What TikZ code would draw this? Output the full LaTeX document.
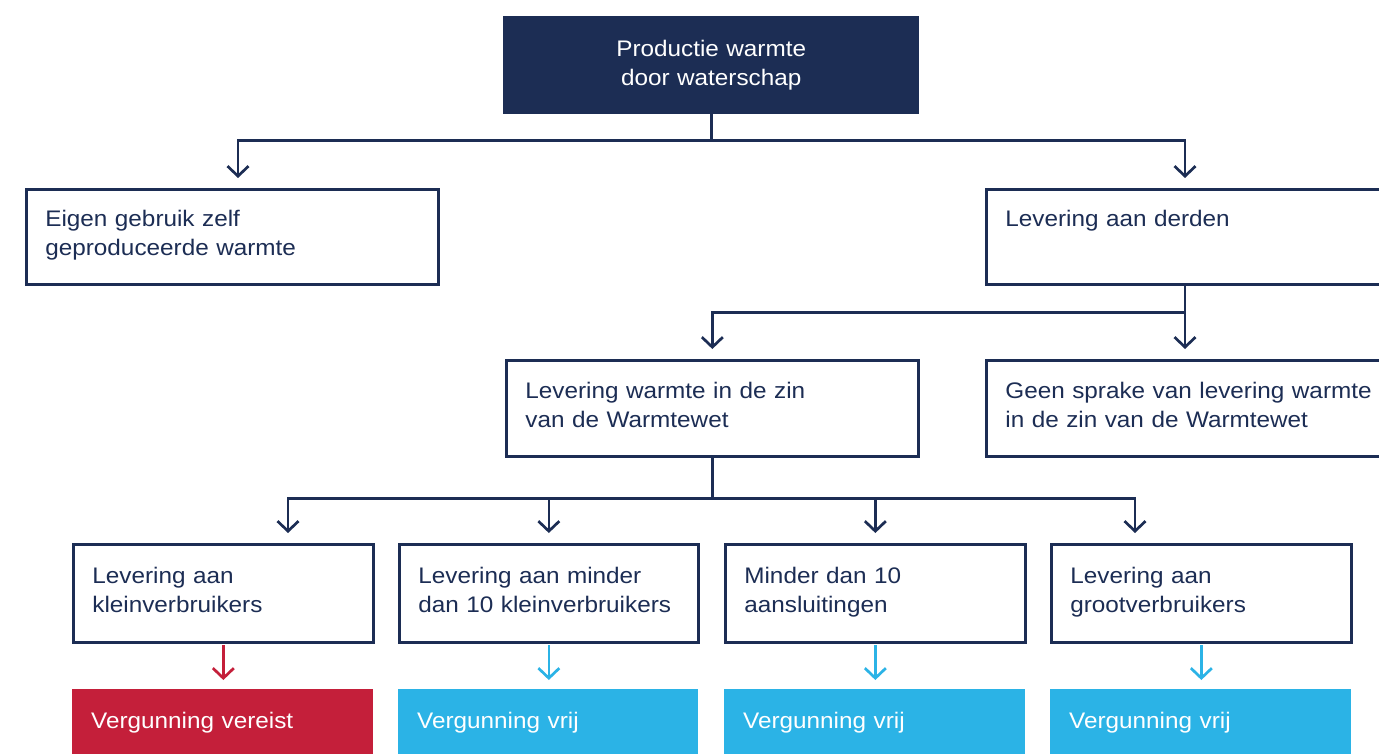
\documentclass[tikz,border=0pt]{standalone}
\usepackage{fontspec}
\setmainfont{Liberation Sans}[FakeStretch=1.08]
\usetikzlibrary{arrows.meta,calc}
\definecolor{navy}{HTML}{1C2D54}
\definecolor{wred}{HTML}{C41F3A}
\definecolor{wblue}{HTML}{2BB3E6}
\newcommand{\topstrut}{\rule{0pt}{17pt}}
\newcommand{\botstrut}{\rule[-8pt]{0pt}{8pt}}
\begin{document}
\begin{tikzpicture}[x=1pt,y=-1pt,
  txt/.style={font=\fontsize{22.5}{29}\selectfont},
  box/.style={txt, draw=navy, line width=2.7pt, text=navy, fill=white,
    anchor=north west, align=left, inner xsep=19pt, inner ysep=0pt},
  topbox/.style={txt, fill=navy, text=white, anchor=north west, align=center,
    inner xsep=0pt, inner ysep=0pt},
  result/.style={txt, text=white, anchor=north west, align=left,
    inner xsep=19pt, inner ysep=0pt, minimum height=66pt},
  conn/.style={draw=navy, line width=2.7pt},
  arr/.style={-{Straight Barb[length=10pt,width=21pt]}, shorten >=10pt}
]
\useasboundingbox (0,0) rectangle (1379,754);
\clip (0,0) rectangle (1379,754);

\node[topbox, text width=416pt, minimum height=98pt] (top) at (503,16)
  {Productie warmte\\door waterschap};
\node[box, text width=374pt, minimum height=95pt] (eigen) at (25,188)
  {\topstrut Eigen gebruik zelf\\geproduceerde warmte\botstrut};
\node[box, text width=392pt, minimum height=95pt] (derden) at (985,188)
  {\topstrut Levering aan derden\\\mbox{}\botstrut};
\node[box, text width=374pt, minimum height=96pt] (warmte) at (505,359)
  {\topstrut Levering warmte in de zin\\van de Warmtewet\botstrut};
\node[box, text width=400pt, minimum height=96pt] (geen) at (985,359)
  {\topstrut Geen sprake van levering warmte\\in de zin van de Warmtewet\botstrut};

\node[box, text width=262pt, minimum height=98pt] (b1) at (72,543)
  {\topstrut Levering aan\\kleinverbruikers\botstrut};
\node[box, text width=261pt, minimum height=98pt] (b2) at (398,543)
  {\topstrut Levering aan minder\\dan 10 kleinverbruikers\botstrut};
\node[box, text width=262pt, minimum height=98pt] (b3) at (724,543)
  {\topstrut Minder dan 10\\aansluitingen\botstrut};
\node[box, text width=262pt, minimum height=98pt] (b4) at (1050,543)
  {\topstrut Levering aan\\grootverbruikers\botstrut};

\node[result, fill=wred, text width=263pt] (v1) at (72,689) {Vergunning vereist};
\node[result, fill=wblue, text width=262pt] (v2) at (398,689) {Vergunning vrij};
\node[result, fill=wblue, text width=263pt] (v3) at (724,689) {Vergunning vrij};
\node[result, fill=wblue, text width=263pt] (v4) at (1050,689) {Vergunning vrij};

% level 1
\draw[conn] (top.south) -- ++(0,26) coordinate (j1);
\draw[conn,arr] (j1) -| ($(eigen.north west)+(213,0)$);
\draw[conn,arr] (j1) -| ($(derden.north west)+(200,0)$);
% level 2
\draw[conn] ($(derden.south west)+(200,0)$) -- ++(0,27) coordinate (j2);
\draw[conn,arr] (j2) -| (warmte.north);
\draw[conn,arr] (j2) -- ($(geen.north west)+(200,0)$);
% level 3
\draw[conn] (warmte.south) -- ++(0,41) coordinate (j3);
\draw[conn,arr] (j3) -| ($(b1.north west)+(216,0)$);
\draw[conn,arr] (j3) -| (b2.north);
\draw[conn,arr] (j3) -| (b3.north);
\draw[conn,arr] (j3) -| ($(b4.north west)+(85,0)$);
% results
\draw[conn,arr,draw=wred,shorten <=1.4pt,shorten >=9pt] (b1.south) -- (b1.south |- v1.north);
\draw[conn,arr,draw=wblue,shorten <=1.4pt,shorten >=9pt] (b2.south) -- (b2.south |- v2.north);
\draw[conn,arr,draw=wblue,shorten <=1.4pt,shorten >=9pt] (b3.south) -- (b3.south |- v3.north);
\draw[conn,arr,draw=wblue,shorten <=1.4pt,shorten >=9pt] (b4.south) -- (b4.south |- v4.north);
\end{tikzpicture}
\end{document}
